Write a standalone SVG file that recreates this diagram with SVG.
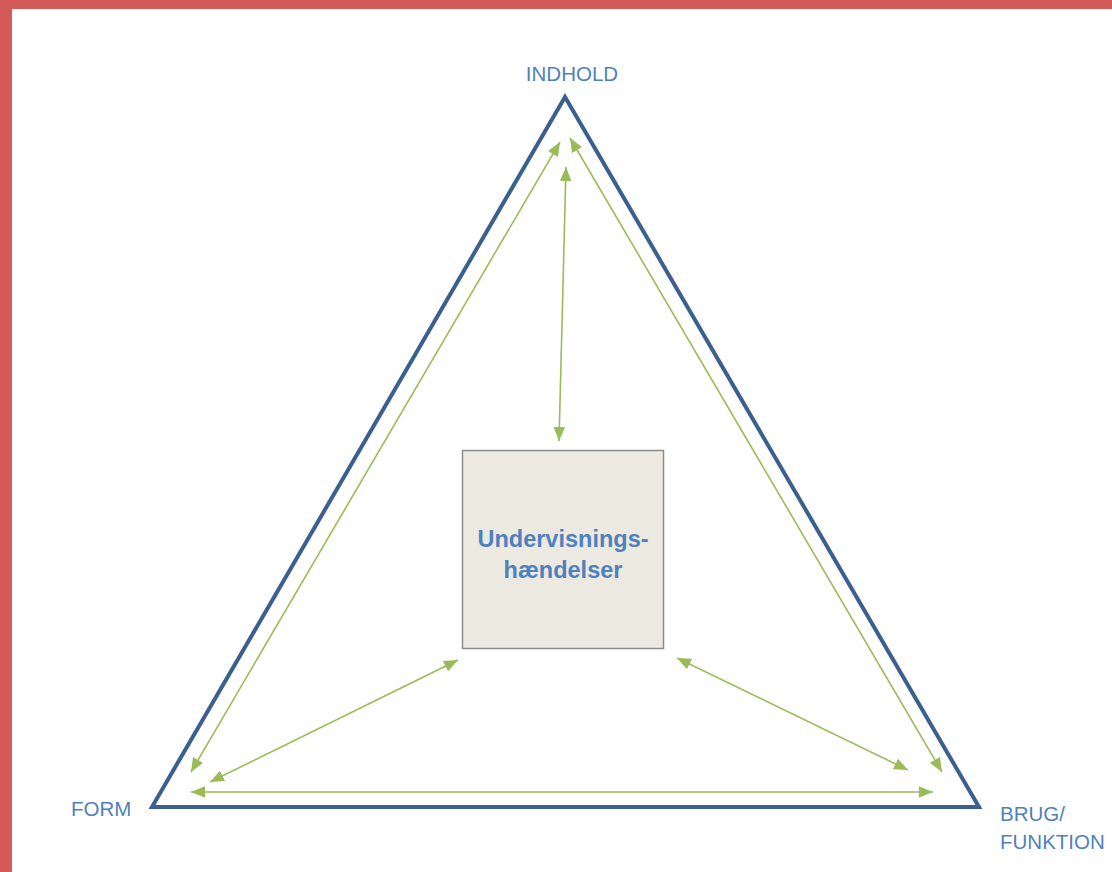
<svg xmlns="http://www.w3.org/2000/svg" width="1112" height="872" viewBox="0 0 1112 872">
<defs>
<marker id="ah" viewBox="0 0 12 10" refX="12" refY="5" markerWidth="14" markerHeight="12" markerUnits="userSpaceOnUse" orient="auto-start-reverse">
<path d="M0,0 L12,5 L0,10 Z" fill="#9BBB59"/>
</marker>
</defs>
<style>
.lbl{font-family:"Liberation Sans",Arial,sans-serif;font-size:20.5px;fill:#4F81BD}
.conn line{stroke:#9BBB59;stroke-width:1.6;marker-start:url(#ah);marker-end:url(#ah)}
.box{fill:#ECEAE0;stroke:#8C8C8C;stroke-width:1.5}
.title{font-family:"Liberation Sans",Arial,sans-serif;font-size:23.5px;font-weight:bold;fill:#4F81BD}
</style>
<rect x="0" y="0" width="1112" height="872" fill="#FFFFFF"/>
<rect x="0" y="0" width="1112" height="9" fill="#D45B5A"/>
<rect x="0" y="0" width="12" height="872" fill="#D45B5A"/>
<g id="triangle">
<polygon points="565,97 152,807 979,807" fill="none" stroke="#3A6090" stroke-width="4" stroke-linejoin="miter"/>
</g>
<g id="indhold"><text class="lbl" x="572" y="81" text-anchor="middle">INDHOLD</text></g>
<g id="form"><text class="lbl" x="71" y="816">FORM</text></g>
<g id="brug"><text class="lbl" x="1000" y="821">BRUG/</text><text class="lbl" x="1000" y="849">FUNKTION</text></g>
<g id="undervisning">
<rect class="box" x="462.5" y="450.5" width="201" height="198"/>
<text class="title" x="563" y="547" text-anchor="middle">Undervisnings-</text>
<text class="title" x="563" y="578" text-anchor="middle">hændelser</text>
</g>
<g id="connectors" class="conn">
<line x1="560" y1="142" x2="191" y2="772"/>
<line x1="570" y1="138" x2="942" y2="772"/>
<line x1="566" y1="167" x2="559" y2="441"/>
<line x1="191" y1="792" x2="933" y2="792"/>
<line x1="458" y1="660" x2="210" y2="782"/>
<line x1="677" y1="658" x2="908" y2="770"/>
</g>
</svg>
